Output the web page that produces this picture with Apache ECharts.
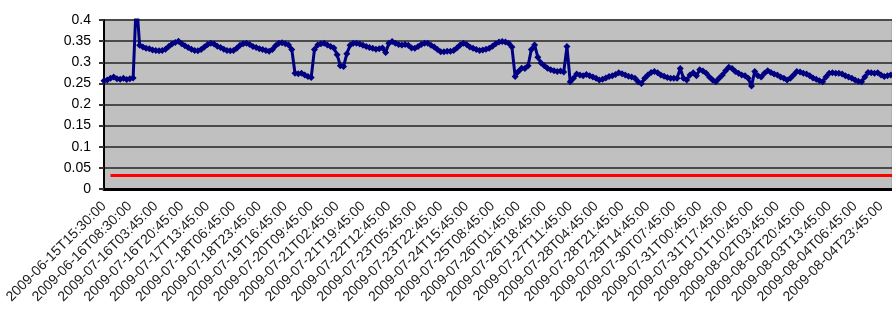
<!DOCTYPE html>
<html>
<head>
<meta charset="utf-8">
<script src="https://cdn.jsdelivr.net/npm/echarts@6/dist/echarts.min.js"></script>
<style>
  html, body { margin: 0; padding: 0; background: #fff; }
  #chart { width: 892px; height: 311px; }
</style>
</head>
<body>
<div id="chart"></div>
<script>
// tick labels (one every 8 samples)
const tickLabels = [
  '2009-06-15T15:30:00', '2009-06-16T08:30:00', '2009-07-16T03:45:00', '2009-07-16T20:45:00',
  '2009-07-17T13:45:00', '2009-07-18T06:45:00', '2009-07-18T23:45:00', '2009-07-19T16:45:00',
  '2009-07-20T09:45:00', '2009-07-21T02:45:00', '2009-07-21T19:45:00', '2009-07-22T12:45:00',
  '2009-07-23T05:45:00', '2009-07-23T22:45:00', '2009-07-24T15:45:00', '2009-07-25T08:45:00',
  '2009-07-26T01:45:00', '2009-07-26T18:45:00', '2009-07-27T11:45:00', '2009-07-28T04:45:00',
  '2009-07-28T21:45:00', '2009-07-29T14:45:00', '2009-07-30T07:45:00', '2009-07-31T00:45:00',
  '2009-07-31T17:45:00', '2009-08-01T10:45:00', '2009-08-02T03:45:00', '2009-08-02T20:45:00',
  '2009-08-03T13:45:00', '2009-08-04T06:45:00', '2009-08-04T23:45:00'
]
const samplesPerTick = 8

const values = [
  0.256, 0.258, 0.262, 0.265, 0.261, 0.260, 0.262, 0.259, 0.261, 0.263,
  0.450, 0.340, 0.336, 0.333, 0.332, 0.329, 0.328, 0.327, 0.328, 0.331,
  0.337, 0.343, 0.347, 0.350, 0.344, 0.339, 0.335, 0.331, 0.328, 0.327,
  0.330, 0.336, 0.342, 0.345, 0.343, 0.338, 0.335, 0.331, 0.328, 0.327,
  0.328, 0.333, 0.340, 0.344, 0.345, 0.342, 0.337, 0.335, 0.332, 0.330,
  0.328, 0.326, 0.330, 0.339, 0.345, 0.346, 0.344, 0.341, 0.330, 0.274,
  0.273, 0.274, 0.270, 0.266, 0.264, 0.330, 0.341, 0.344, 0.345, 0.341,
  0.337, 0.334, 0.318, 0.292, 0.290, 0.320, 0.340, 0.345, 0.345, 0.343,
  0.340, 0.337, 0.335, 0.333, 0.331, 0.332, 0.334, 0.323, 0.345, 0.349,
  0.345, 0.342, 0.341, 0.342, 0.340, 0.334, 0.333, 0.337, 0.342, 0.345,
  0.345, 0.340, 0.336, 0.330, 0.325, 0.325, 0.326, 0.326, 0.328, 0.334,
  0.341, 0.345, 0.342, 0.336, 0.333, 0.330, 0.328, 0.329, 0.331, 0.333,
  0.338, 0.344, 0.348, 0.349, 0.348, 0.345, 0.336, 0.266, 0.278, 0.286,
  0.285, 0.292, 0.330, 0.341, 0.312, 0.298, 0.292, 0.286, 0.282, 0.280,
  0.278, 0.279, 0.277, 0.337, 0.254, 0.262, 0.272, 0.270, 0.268, 0.271,
  0.268, 0.265, 0.262, 0.258, 0.260, 0.263, 0.266, 0.268, 0.271, 0.275,
  0.273, 0.270, 0.267, 0.265, 0.262, 0.254, 0.250, 0.262, 0.270, 0.276,
  0.278, 0.275, 0.270, 0.267, 0.264, 0.262, 0.262, 0.262, 0.285, 0.262,
  0.258, 0.270, 0.275, 0.268, 0.282, 0.279, 0.274, 0.265, 0.258, 0.254,
  0.262, 0.270, 0.280, 0.288, 0.285, 0.278, 0.274, 0.270, 0.268, 0.262,
  0.244, 0.278, 0.268, 0.265, 0.274, 0.280, 0.276, 0.272, 0.270, 0.265,
  0.262, 0.258, 0.262, 0.270, 0.278, 0.277, 0.274, 0.272, 0.268, 0.263,
  0.260, 0.256, 0.254, 0.265, 0.274, 0.275, 0.274, 0.274, 0.272, 0.268,
  0.265, 0.262, 0.258, 0.255, 0.254, 0.265, 0.276, 0.275, 0.274, 0.275,
  0.270, 0.266, 0.268, 0.270
]

const threshold = 0.032
const thresholdStart = 2
const xMax = 243.4

const chart = echarts.init(document.getElementById('chart'))

const option = {
  animation: false,
  grid: {
    left: 104,
    right: 0,
    top: 20,
    bottom: 122,
    show: true,
    backgroundColor: '#c0c0c0',
    borderColor: '#a0a0a0',
    borderWidth: 1
  },
  xAxis: {
    type: 'value',
    min: 0,
    max: xMax,
    interval: samplesPerTick,
    axisLine: { onZero: false, lineStyle: { color: '#000', width: 3 } },
    axisTick: { show: false },
    splitLine: { show: false },
    axisLabel: {
      rotate: 45,
      margin: 15,
      color: '#1a1a1a',
      fontFamily: 'Liberation Sans, Arial, sans-serif',
      fontSize: 14,
      showMaxLabel: false,
      formatter: function (v) {
        const k = v / samplesPerTick
        return Number.isInteger(k) && tickLabels[k] ? tickLabels[k] : ''
      }
    }
  },
  yAxis: {
    type: 'value',
    min: 0,
    max: 0.4,
    interval: 0.05,
    axisLine: { show: true, lineStyle: { color: '#000', width: 2 } },
    axisTick: { show: true, length: 5, lineStyle: { color: '#333', width: 2 } },
    splitLine: { lineStyle: { color: '#4a4a4a', width: 2 } },
    axisLabel: {
      margin: 13,
      color: '#000',
      fontFamily: 'Liberation Sans, Arial, sans-serif',
      fontSize: 14,
      formatter: function (v) {
        return String(Math.round(v * 100) / 100)
      }
    }
  },
  series: [
    {
      type: 'line',
      data: values.map(function (v, i) { return [i, v] }),
      symbol: 'diamond',
      symbolSize: 7,
      showAllSymbol: true,
      clip: true,
      lineStyle: { color: '#000080', width: 3 },
      itemStyle: { color: '#000080' },
      markLine: {
        silent: true,
        symbol: 'none',
        label: { show: false },
        lineStyle: { color: '#ff0000', width: 3, type: 'solid' },
        data: [[{ coord: [thresholdStart, threshold] }, { coord: [xMax, threshold] }]]
      }
    }
  ]
}

chart.setOption(option)
window.addEventListener('resize', function () {
  chart.resize()
})
</script>
</body>
</html>
